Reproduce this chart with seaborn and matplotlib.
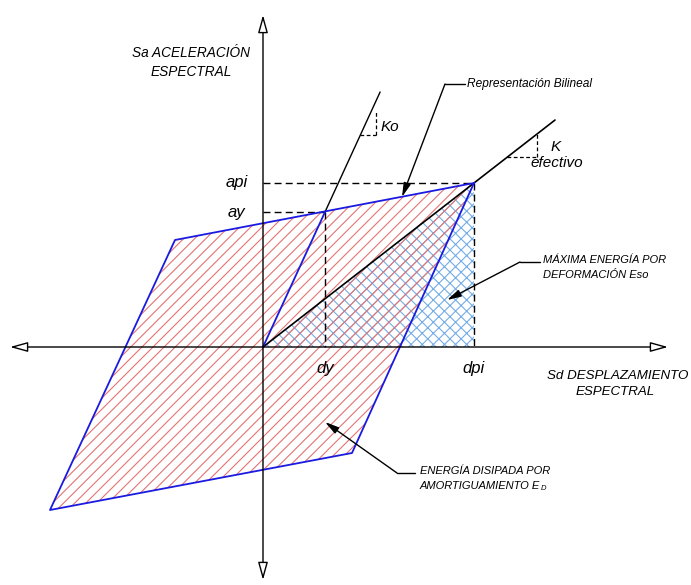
import matplotlib.pyplot as plt
import seaborn as sns
from matplotlib.patches import Polygon

# diagram values (origin = Sd 0, Sa 0)
dy, ay = 62, 135
dpi, api = 211, 164
loop_x = [211, -88, -213, 89, 211]
loop_y = [164, 107, -163, -106, 164]
ko_top = 255          # Sa where the Ko line stops
keff_right = 292      # Sd where the K efectivo line stops

sns.set_theme(style="white")
plt.rcParams["font.family"] = ["Liberation Sans", "DejaVu Sans"]
plt.rcParams["hatch.linewidth"] = 0.8

fig = plt.figure(figsize=(6.91, 5.85), dpi=100)
ax = fig.add_axes([0, 0, 1, 1])
ax.set_xlim(-263, 428)
ax.set_ylim(-238, 347)
ax.set_axis_off()

# hatched areas (blue cross first so the red lines show through it)
ax.add_patch(Polygon([(0, 0), (dpi, api), (dpi, 0)], closed=True, fill=False,
                     hatch="xxx", edgecolor="#74ade6", linewidth=0))
ax.add_patch(Polygon(list(zip(loop_x, loop_y)), closed=True, fill=False,
                     hatch="///", edgecolor="#e57373", linewidth=0))

# axes with open arrow heads
arrow_axis = dict(arrowstyle="<|-|>,head_length=0.9,head_width=0.25",
                  color="black", lw=1.0, fc="white", shrinkA=0, shrinkB=0)
ax.annotate("", xy=(405, 0), xytext=(-253, 0), arrowprops=arrow_axis)
ax.annotate("", xy=(0, 332), xytext=(0, -233), arrowprops=arrow_axis)

# dashed guides
dash = dict(color="black", lw=1.0, ls=(0, (5, 3)))
ax.plot([0, dpi], [api, api], **dash)
ax.plot([dpi, dpi], [api, 0], **dash)
ax.plot([0, dy], [ay, ay], **dash)
ax.plot([dy, dy], [ay, 0], **dash)

# stiffness lines
ko = ay / dy
keff = api / dpi
ax.plot([dy, ko_top / ko], [ay, ko_top], color="black", lw=1.0)
ax.plot([0, keff_right], [0, keff_right * keff], color="black", lw=1.2)

# bilinear loop (blue)
sns.lineplot(x=loop_x, y=loop_y, sort=False, estimator=None, color="#1a1ae0", lw=1.3, ax=ax)
sns.lineplot(x=[0, dy], y=[0, ay], sort=False, estimator=None, color="#1a1ae0", lw=1.3, ax=ax)

# slope triangles
small = dict(color="black", lw=0.9, ls=(0, (3, 2)))
ax.plot([212 / ko, 113], [212, 212], **small)
ax.plot([113, 113], [212, 237], **small)
ax.plot([190 / keff, 274], [190, 190], **small)
ax.plot([274, 274], [190, 274 * keff], **small)

txt = dict(style="italic", color="black")
ax.text(-26, api, "api", ha="center", va="center", fontsize=12, **txt)
ax.text(-27, ay, "ay", ha="center", va="center", fontsize=12, **txt)
ax.text(dy, -21, "dy", ha="center", va="center", fontsize=12, **txt)
ax.text(dpi, -21, "dpi", ha="center", va="center", fontsize=12, **txt)
ax.text(118, 220, "Ko", ha="left", va="center", fontsize=11, **txt)
ax.text(288, 200, "K", ha="left", va="center", fontsize=11, **txt)
ax.text(294, 184, "efectivo", ha="center", va="center", fontsize=11, **txt)

ax.text(-72, 294, "Sa ACELERACIÓN", ha="center", va="center", fontsize=9.8, **txt)
ax.text(-72, 275, "ESPECTRAL", ha="center", va="center", fontsize=9.8, **txt)
ax.text(355, -29, "Sd DESPLAZAMIENTO", ha="center", va="center", fontsize=9.6, **txt)
ax.text(352, -45, "ESPECTRAL", ha="center", va="center", fontsize=9.6, **txt)

ax.text(204, 263, "Representación Bilineal", ha="left", va="center", fontsize=8.6, **txt)
ax.text(280, 87, "MÁXIMA ENERGÍA POR", ha="left", va="center", fontsize=8, **txt)
ax.text(280, 72, "DEFORMACIÓN Eso", ha="left", va="center", fontsize=8, **txt)
ax.text(157, -124, "ENERGÍA DISIPADA POR", ha="left", va="center", fontsize=8, **txt)
ax.text(157, -139, "AMORTIGUAMIENTO E", ha="left", va="center", fontsize=8, **txt)
ax.text(278, -142, "D", ha="left", va="center", fontsize=5.5, **txt)

# leaders
lead = dict(arrowstyle="-|>,head_length=0.7,head_width=0.18", color="black",
            lw=1.0, shrinkA=0, shrinkB=0)
for (x0, y0), (x1, y1), (tx, ty) in [
    ((202, 263), (182, 263), (139, 150)),
    ((277, 85), (257, 85), (184, 47)),
    ((152, -126), (134, -126), (62, -75)),
]:
    ax.plot([x0, x1], [y0, y1], color="black", lw=1.0)
    ax.annotate("", xy=(tx, ty), xytext=(x1, y1), arrowprops=lead)

fig.savefig("out.png", dpi=100)
